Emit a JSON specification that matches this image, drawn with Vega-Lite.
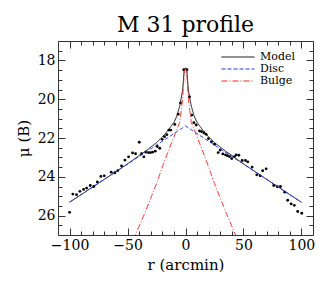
{
  "$schema": "https://vega.github.io/schema/vega-lite/v6.json",
  "autosize": "none",
  "width": 255,
  "height": 194,
  "padding": {"left": 58, "top": 41, "right": 17, "bottom": 55},
  "title": {"text": "M 31 profile", "font": "DejaVu Serif", "fontSize": 22, "fontWeight": "normal", "color": "black", "anchor": "middle", "offset": 4},
  "config": {
    "view": {"stroke": "#333", "strokeWidth": 1},
    "axis": {"grid": false, "domain": false, "tickColor": "#333", "labelFont": "DejaVu Serif", "labelFontSize": 14, "labelColor": "black", "titleFont": "DejaVu Serif", "titleFontSize": 15, "titleFontWeight": "normal", "titleColor": "black", "labelOverlap": false, "labelFlush": false}
  },
  "datasets": {
    "obs": [
      {"r": -100, "mu": 25.83}, {"r": -97.2, "mu": 24.89}, {"r": -94.0, "mu": 24.92}, {"r": -91.1, "mu": 24.75},
      {"r": -87.9, "mu": 24.65}, {"r": -85.3, "mu": 24.58}, {"r": -82.2, "mu": 24.45}, {"r": -79.1, "mu": 24.50},
      {"r": -76.1, "mu": 24.27}, {"r": -73.0, "mu": 23.98}, {"r": -70.1, "mu": 23.95}, {"r": -64.1, "mu": 23.76},
      {"r": -60.9, "mu": 23.79}, {"r": -58.4, "mu": 23.68}, {"r": -55.2, "mu": 23.44}, {"r": -52.3, "mu": 23.14},
      {"r": -49.1, "mu": 22.97}, {"r": -45.7, "mu": 22.77}, {"r": -43.1, "mu": 22.81}, {"r": -39.9, "mu": 22.22},
      {"r": -37.9, "mu": 22.81}, {"r": -35.9, "mu": 22.97}, {"r": -34.2, "mu": 22.73}, {"r": -31.9, "mu": 22.75},
      {"r": -30.2, "mu": 22.75}, {"r": -28.4, "mu": 22.73}, {"r": -26.1, "mu": 22.68}, {"r": -24.4, "mu": 22.44},
      {"r": -22.2, "mu": 22.53}, {"r": -20.1, "mu": 22.07}, {"r": -18.1, "mu": 21.93}, {"r": -16.1, "mu": 21.83},
      {"r": -14.4, "mu": 21.59}, {"r": -12.7, "mu": 21.59}, {"r": -9.2, "mu": 21.30}, {"r": -6.3, "mu": 20.77},
      {"r": -4.3, "mu": 20.19}, {"r": -1.5, "mu": 18.48},
      {"r": 1.2, "mu": 18.48}, {"r": 3.4, "mu": 19.88}, {"r": 5.4, "mu": 20.82}, {"r": 7.2, "mu": 21.21},
      {"r": 9.2, "mu": 21.33}, {"r": 12.1, "mu": 21.64}, {"r": 13.8, "mu": 21.67}, {"r": 15.8, "mu": 21.73},
      {"r": 17.8, "mu": 21.81}, {"r": 19.8, "mu": 22.03}, {"r": 22.4, "mu": 22.19}, {"r": 25.0, "mu": 22.32},
      {"r": 28.2, "mu": 22.75}, {"r": 29.9, "mu": 22.62}, {"r": 32.2, "mu": 22.82}, {"r": 34.5, "mu": 22.87},
      {"r": 36.2, "mu": 22.91}, {"r": 37.9, "mu": 22.96}, {"r": 39.9, "mu": 23.06}, {"r": 42.2, "mu": 22.96},
      {"r": 43.7, "mu": 22.87}, {"r": 46.0, "mu": 22.89}, {"r": 48.9, "mu": 23.16}, {"r": 51.7, "mu": 23.16},
      {"r": 53.7, "mu": 23.23}, {"r": 57.5, "mu": 23.50}, {"r": 61.5, "mu": 23.90}, {"r": 64.4, "mu": 23.95},
      {"r": 66.6, "mu": 23.69}, {"r": 69.6, "mu": 23.59}, {"r": 76.1, "mu": 24.45}, {"r": 79.1, "mu": 24.51},
      {"r": 81.9, "mu": 24.50}, {"r": 85.6, "mu": 24.79}, {"r": 88.2, "mu": 25.21}, {"r": 91.1, "mu": 25.40},
      {"r": 93.9, "mu": 25.47}, {"r": 96.8, "mu": 25.79}, {"r": 100.3, "mu": 25.88}
    ],
    "fit": [
      {"series": "Model", "r": -100, "mu": 25.31}, {"series": "Model", "r": -90, "mu": 24.92}, {"series": "Model", "r": -80, "mu": 24.52},
      {"series": "Model", "r": -70, "mu": 24.13}, {"series": "Model", "r": -60, "mu": 23.73}, {"series": "Model", "r": -50, "mu": 23.33},
      {"series": "Model", "r": -45, "mu": 23.12}, {"series": "Model", "r": -40, "mu": 22.9}, {"series": "Model", "r": -35, "mu": 22.7},
      {"series": "Model", "r": -30, "mu": 22.47}, {"series": "Model", "r": -25, "mu": 22.24}, {"series": "Model", "r": -20, "mu": 21.95},
      {"series": "Model", "r": -15, "mu": 21.6}, {"series": "Model", "r": -10, "mu": 21.2}, {"series": "Model", "r": -7.5, "mu": 20.88},
      {"series": "Model", "r": -5, "mu": 20.35}, {"series": "Model", "r": -2.5, "mu": 19.55}, {"series": "Model", "r": -1, "mu": 18.43},
      {"series": "Model", "r": 0, "mu": 18.4},
      {"series": "Model", "r": 1, "mu": 18.43}, {"series": "Model", "r": 2.5, "mu": 19.55}, {"series": "Model", "r": 5, "mu": 20.35},
      {"series": "Model", "r": 7.5, "mu": 20.88}, {"series": "Model", "r": 10, "mu": 21.2}, {"series": "Model", "r": 15, "mu": 21.6},
      {"series": "Model", "r": 20, "mu": 21.95}, {"series": "Model", "r": 25, "mu": 22.24}, {"series": "Model", "r": 30, "mu": 22.47},
      {"series": "Model", "r": 35, "mu": 22.7}, {"series": "Model", "r": 40, "mu": 22.9}, {"series": "Model", "r": 45, "mu": 23.12},
      {"series": "Model", "r": 50, "mu": 23.33}, {"series": "Model", "r": 60, "mu": 23.73}, {"series": "Model", "r": 70, "mu": 24.13},
      {"series": "Model", "r": 80, "mu": 24.52}, {"series": "Model", "r": 90, "mu": 24.92}, {"series": "Model", "r": 100, "mu": 25.31},
      {"series": "Disc", "r": -100, "mu": 25.31}, {"series": "Disc", "r": 0, "mu": 21.38}, {"series": "Disc", "r": 100, "mu": 25.31},
      {"series": "Bulge", "r": -45, "mu": 27.25}, {"series": "Bulge", "r": -40, "mu": 26.55}, {"series": "Bulge", "r": -35, "mu": 25.85},
      {"series": "Bulge", "r": -30, "mu": 25.1}, {"series": "Bulge", "r": -25, "mu": 24.35}, {"series": "Bulge", "r": -20, "mu": 23.5},
      {"series": "Bulge", "r": -15, "mu": 22.7}, {"series": "Bulge", "r": -10, "mu": 21.95}, {"series": "Bulge", "r": -7.5, "mu": 21.55},
      {"series": "Bulge", "r": -5, "mu": 21.2}, {"series": "Bulge", "r": -2.5, "mu": 20.0}, {"series": "Bulge", "r": -1, "mu": 18.5},
      {"series": "Bulge", "r": 0, "mu": 18.45},
      {"series": "Bulge", "r": 1, "mu": 18.5}, {"series": "Bulge", "r": 2.5, "mu": 20.0}, {"series": "Bulge", "r": 5, "mu": 21.2},
      {"series": "Bulge", "r": 7.5, "mu": 21.55}, {"series": "Bulge", "r": 10, "mu": 21.95}, {"series": "Bulge", "r": 15, "mu": 22.7},
      {"series": "Bulge", "r": 20, "mu": 23.5}, {"series": "Bulge", "r": 25, "mu": 24.35}, {"series": "Bulge", "r": 30, "mu": 25.1},
      {"series": "Bulge", "r": 35, "mu": 25.85}, {"series": "Bulge", "r": 40, "mu": 26.55}, {"series": "Bulge", "r": 45, "mu": 27.25}
    ]
  },
  "resolve": {"axis": {"x": "independent", "y": "independent"}},
  "layer": [
    {
      "data": {"name": "obs"},
      "mark": {"type": "point", "filled": true, "size": 8, "color": "black", "opacity": 1},
      "encoding": {
        "x": {"field": "r", "type": "quantitative", "scale": {"domain": [-110, 110], "nice": false, "zero": false},
          "axis": {"orient": "bottom", "title": "r (arcmin)", "values": [-110, -100, -90, -80, -70, -60, -50, -40, -30, -20, -10, 0, 10, 20, 30, 40, 50, 60, 70, 80, 90, 100, 110],
            "labelExpr": "datum.value % 50 === 0 ? datum.label : ''",
            "tickSize": {"condition": {"test": "datum.value % 50 === 0", "value": -7}, "value": -4},
            "labelPadding": 10, "titlePadding": 2}},
        "y": {"field": "mu", "type": "quantitative", "scale": {"domain": [17, 27], "reverse": true, "nice": false, "zero": false},
          "axis": {"orient": "left", "title": "μ (B)", "values": [17.5, 18, 18.5, 19, 19.5, 20, 20.5, 21, 21.5, 22, 22.5, 23, 23.5, 24, 24.5, 25, 25.5, 26, 26.5],
            "labelExpr": "datum.value % 2 === 0 ? '' + datum.value : ''",
            "tickSize": {"condition": {"test": "datum.value % 2 === 0", "value": -7}, "value": -4},
            "labelPadding": 10, "titlePadding": 6}}
      }
    },
    {
      "data": {"name": "fit"},
      "mark": {"type": "line", "strokeWidth": 0.9, "clip": true},
      "encoding": {
        "x": {"field": "r", "type": "quantitative",
          "axis": {"orient": "top", "title": null, "labels": false, "values": [-110, -100, -90, -80, -70, -60, -50, -40, -30, -20, -10, 0, 10, 20, 30, 40, 50, 60, 70, 80, 90, 100, 110],
            "tickSize": {"condition": {"test": "datum.value % 50 === 0", "value": -7}, "value": -4}}},
        "y": {"field": "mu", "type": "quantitative",
          "axis": {"orient": "right", "title": null, "labels": false, "values": [17.5, 18, 18.5, 19, 19.5, 20, 20.5, 21, 21.5, 22, 22.5, 23, 23.5, 24, 24.5, 25, 25.5, 26, 26.5],
            "tickSize": {"condition": {"test": "datum.value % 2 === 0", "value": -7}, "value": -4}}},
        "color": {"field": "series", "type": "nominal",
          "scale": {"domain": ["Model", "Disc", "Bulge"], "range": ["black", "#2233ff", "#ff2222"]},
          "legend": {"orient": "none", "legendX": 174, "legendY": 10, "title": null, "symbolType": "M-3,0H3", "symbolSize": 121, "symbolStrokeWidth": 1,
            "labelFont": "DejaVu Serif", "labelFontSize": 11, "labelColor": "black", "rowPadding": 1, "labelOffset": 16}},
        "strokeDash": {"field": "series", "type": "nominal",
          "scale": {"domain": ["Model", "Disc", "Bulge"], "range": [[1, 0], [4, 2], [6, 2, 1, 2]]},
          "legend": null}
      }
    }
  ]
}
